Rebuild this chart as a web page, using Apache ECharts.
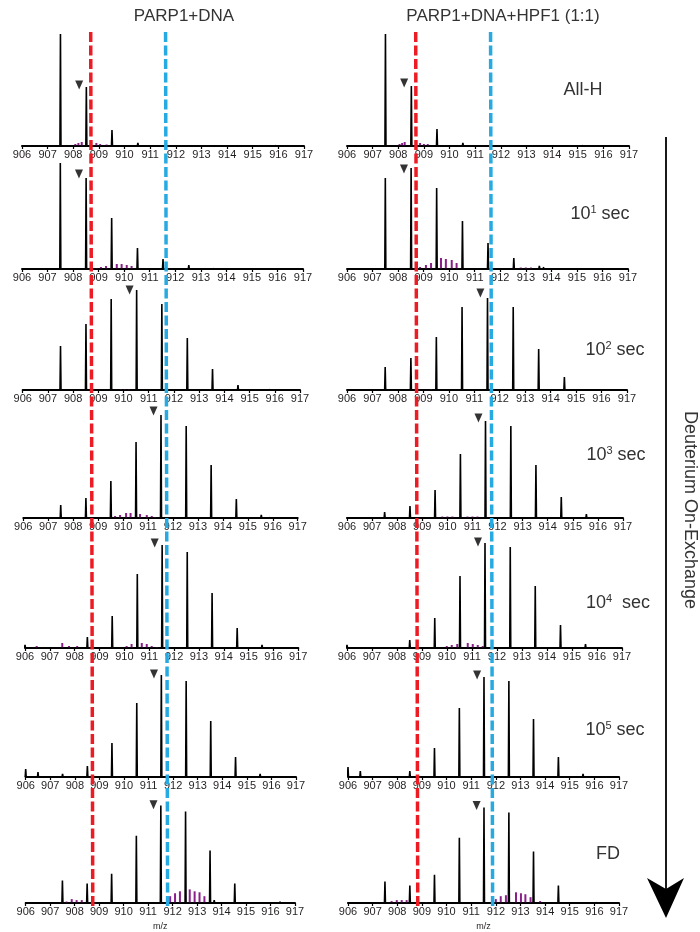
<!DOCTYPE html>
<html>
<head>
<meta charset="utf-8">
<script src="https://cdn.jsdelivr.net/npm/echarts@6/dist/echarts.min.js"></script>
<style>
  html, body { margin: 0; background: #fff; }
  #chart { width: 700px; height: 932px; }
</style>
</head>
<body>
<div id="chart"></div>
<script>
// isotope positions (m/z) and tick labels
const isotopes = [907.50, 908.51, 909.51, 910.52, 911.52, 912.53, 913.53, 914.54, 915.54];
const mzMin = 906;
const mzMax = 917;

const columnTitles = ['PARP1+DNA', 'PARP1+DNA+HPF1 (1:1)'];
const timeLabels = ['All-H', '10{s|1}{n| sec}', '10{s|2}{n| sec}', '10{s|3}{n| sec}', '10{s|4}{n|  sec}', '10{s|5}{n| sec}', 'FD'];

// intensity at each isotope, one row per time point
const dnaMain = [
  [112, 59, 16, 3, 0, 0, 0, 0, 0],
  [106, 91, 51, 21, 10, 4, 1, 0, 0],
  [44, 66, 91, 100, 86, 52, 21, 5, 1],
  [13, 20, 37, 76, 103, 92, 53, 19, 3],
  [0, 11, 32, 74, 103, 96, 55, 20, 3],
  [3, 11, 34, 74, 102, 96, 56, 20, 3],
  [23, 20, 30, 69, 100, 94, 54, 20, 2]
];
const hpfMain = [
  [112, 60, 17, 3, 0, 0, 0, 0, 0],
  [91, 101, 81, 48, 26, 11, 3, 0, 0],
  [23, 32, 53, 83, 92, 83, 41, 13, 2],
  [6, 12, 28, 64, 97, 92, 53, 21, 4],
  [2, 8, 30, 72, 105, 101, 62, 23, 4],
  [2, 6, 29, 69, 100, 96, 58, 20, 3],
  [22, 18, 29, 67, 98, 93, 53, 18, 1]
];

// small black noise peaks [m/z, intensity]
const dnaMinor = [
  [[911.9, 1.5], [915.1, 1.5], [915.25, 1.5], [915.4, 1.5], [915.9, 1]],
  [[906.5, 1], [912.8, 2], [913.1, 1.5], [913.4, 1]],
  [[906.3, 1], [915.8, 1]],
  [[906.2, 1], [906.6, 1], [915.9, 1]],
  [[906.0, 3], [906.3, 1]],
  [[906.0, 8], [906.5, 5], [907.0, 2], [910.0, 1]],
  [[906.0, 2], [906.5, 2], [907.2, 1], [909.1, 1], [911.3, 1], [913.7, 3], [915.2, 1.5], [915.5, 1.5], [915.8, 1.5], [916.1, 1.5], [916.4, 1.5]]
];
const hpfMinor = [
  [[910.9, 1], [915.2, 1]],
  [[906.4, 1], [910.65, 2], [910.9, 1], [913.7, 2]],
  [[915.5, 1]],
  [[906.0, 2], [906.5, 1]],
  [[906.0, 3], [906.5, 1]],
  [[906.0, 10], [906.5, 6], [907.0, 2]],
  [[906.0, 2], [906.5, 2], [907.1, 1], [909.0, 1], [913.8, 2], [915.2, 1], [915.5, 1], [915.8, 1], [916.1, 1]]
];

// purple peaks [m/z, intensity]
const dnaPurple = [
  [[908.08, 2], [908.2, 3], [908.33, 4], [908.9, 3], [909.05, 2], [909.3, 1.5]],
  [[908.92, 1], [909.09, 2], [909.29, 3], [909.71, 5], [909.9, 5], [910.1, 4], [910.29, 3]],
  [[909.9, 1], [910.05, 1], [910.2, 1]],
  [[909.68, 2], [909.88, 3], [910.12, 5], [910.3, 5], [910.68, 4], [910.95, 3], [911.15, 2], [911.28, 1]],
  [[906.47, 2], [907.5, 5], [907.77, 2], [908.1, 2], [910.09, 2], [910.29, 4], [910.7, 5], [910.9, 4], [911.1, 2], [911.3, 1]],
  [],
  [[907.67, 1.5], [907.88, 4], [908.08, 3], [908.29, 3], [911.9, 7], [912.1, 10], [912.3, 12], [912.7, 14], [912.9, 12], [913.1, 11], [913.3, 7]]
];
const hpfPurple = [
  [[908.05, 2], [908.15, 3], [908.25, 4], [908.85, 3], [909.0, 2], [909.15, 2]],
  [[908.86, 2], [909.09, 4], [909.29, 6], [909.68, 11], [909.87, 10], [910.1, 9], [910.29, 6], [912.8, 1.5], [913.0, 1.5], [913.2, 1.5]],
  [[909.3, 1], [909.5, 1]],
  [[909.8, 1.5], [910.0, 1.5], [910.2, 1.5], [910.8, 1.5], [911.0, 1.5], [911.2, 1.5]],
  [[909.99, 2], [910.19, 3], [910.41, 4], [910.83, 5], [911.03, 4], [911.23, 3], [911.43, 2]],
  [],
  [[907.77, 2], [907.98, 3], [908.18, 3], [908.38, 3], [909.17, 1], [912.0, 4], [912.2, 7], [912.41, 8], [912.82, 11], [913.02, 10], [913.2, 9], [913.41, 6], [913.8, 2]]
];

// ▼ marker [m/z, level]
const dnaMarker = [[908.23, 61], [908.23, 95], [910.24, 100], [911.22, 107], [911.22, 105], [911.22, 103], [911.22, 101]];
const hpfMarker = [[908.23, 63], [908.23, 100], [911.24, 97], [911.24, 100], [911.24, 106], [911.24, 102], [911.22, 100]];

// dashed guide lines, m/z at top and bottom of the figure
const redGuide = [908.68, 908.76];
const blueGuide = [911.60, 911.68];

// layout
const FONT = 'Liberation Sans, Arial, sans-serif';
const PANEL_H = 115;
const rowBase = [146, 269, 390, 518, 648, 777, 906];
const dnaAxisPx = [[22, 304], [22, 303], [22.7, 300], [23.3, 297.7], [25, 298.3], [25.7, 296], [25.7, 295]];
const hpfAxisPx = [[347, 629], [347, 628], [347, 627], [347, 623], [347, 622], [348, 619], [348, 619]];
const labelPos = [[583, 90], [600, 214], [615, 350], [616, 455], [618, 603], [615, 730], [608, 854]];

function stickLine(peaks, half) {
  const pts = [];
  peaks.slice().sort((a, b) => a[0] - b[0]).forEach(([mz, h]) => {
    pts.push([mz - half, 0], [mz, h], [mz + half, 0]);
  });
  return pts;
}

const grid = [], xAxis = [], yAxis = [], series = [];

function addPanel(axisPx, base, main, minor, purple, marker, last) {
  const g = grid.length;
  grid.push({ left: axisPx[0], width: axisPx[1] - axisPx[0], top: base - PANEL_H, height: PANEL_H });
  xAxis.push({
    gridIndex: g, type: 'value', min: mzMin, max: mzMax, interval: 1,
    axisLine: { lineStyle: { color: '#000', width: 2 } },
    axisTick: { length: 3, lineStyle: { color: '#000', width: 1.2 } },
    axisLabel: { fontSize: 11, color: '#231f20', margin: 3, fontFamily: FONT },
    splitLine: { show: false },
    name: last ? 'm/z' : '', nameLocation: 'middle', nameGap: 19,
    nameTextStyle: { fontSize: 9, color: '#231f20', fontFamily: FONT }
  });
  yAxis.push({ gridIndex: g, type: 'value', min: 0, max: PANEL_H, show: false });

  const peaks = isotopes.map((mz, i) => [mz, main[i]]).filter(p => p[1] > 0).concat(minor);
  series.push({
    type: 'line', xAxisIndex: g, yAxisIndex: g, data: stickLine(peaks, 0.02),
    symbol: 'none', lineStyle: { color: '#000', width: 1.6 }, z: 3, silent: true, animation: false
  });
  series.push({
    type: 'bar', xAxisIndex: g, yAxisIndex: g, data: purple, barWidth: 2,
    itemStyle: { color: '#8a1f8a' }, z: 2, silent: true, animation: false
  });
  series.push({
    type: 'scatter', xAxisIndex: g, yAxisIndex: g, data: [marker],
    symbol: 'triangle', symbolRotate: 180, symbolSize: [8, 9],
    itemStyle: { color: '#000' }, z: 4, silent: true, animation: false
  });
}

for (let r = 0; r < 7; r++) {
  addPanel(dnaAxisPx[r], rowBase[r], dnaMain[r], dnaMinor[r], dnaPurple[r], dnaMarker[r], r === 6);
  addPanel(hpfAxisPx[r], rowBase[r], hpfMain[r], hpfMinor[r], hpfPurple[r], hpfMarker[r], r === 6);
}

// dashed guides over each column
[dnaAxisPx[0], hpfAxisPx[0]].forEach(axisPx => {
  const g = grid.length;
  grid.push({ left: axisPx[0], width: axisPx[1] - axisPx[0], top: 32, height: 874 });
  xAxis.push({ gridIndex: g, type: 'value', min: mzMin, max: mzMax, show: false });
  yAxis.push({ gridIndex: g, type: 'value', min: 0, max: 1, show: false });
  [[redGuide, '#ed1c24'], [blueGuide, '#27aae1']].forEach(([line, color]) => {
    series.push({
      type: 'line', xAxisIndex: g, yAxisIndex: g, data: [[line[0], 1], [line[1], 0]],
      symbol: 'none', lineStyle: { color: color, width: 3.5, type: [10, 3.5], cap: 'butt' },
      z: 10, silent: true, animation: false
    });
  });
});

const graphic = [
  { type: 'text', x: 184, y: 16, style: { text: columnTitles[0], font: '17px ' + FONT, fill: '#333', align: 'center', verticalAlign: 'middle' } },
  { type: 'text', x: 503, y: 16, style: { text: columnTitles[1], font: '17px ' + FONT, fill: '#333', align: 'center', verticalAlign: 'middle' } },
  { type: 'line', shape: { x1: 666, y1: 137, x2: 666, y2: 890 }, style: { stroke: '#000', lineWidth: 1.8 } },
  { type: 'polygon', shape: { points: [[647, 878], [666, 918], [684, 878], [666, 889]] }, style: { fill: '#000' } },
  { type: 'text', x: 690, y: 510, rotation: -Math.PI / 2,
    style: { text: 'Deuterium On-Exchange', font: '18px ' + FONT, fill: '#333', align: 'center', verticalAlign: 'middle' } }
];
timeLabels.forEach((t, i) => {
  graphic.push({
    type: 'text', x: labelPos[i][0], y: labelPos[i][1],
    style: {
      text: t.indexOf('{') >= 0 ? '{n|' + t.replace('{s|', '}{s|') : t,
      font: '18px ' + FONT, fill: '#333', align: 'center', verticalAlign: 'middle',
      rich: {
        n: { fontSize: 18, fontFamily: FONT, fill: '#333', lineHeight: 20 },
        s: { fontSize: 11, fontFamily: FONT, fill: '#333', lineHeight: 20, verticalAlign: 'top' }
      }
    }
  });
});

const chart = echarts.init(document.getElementById('chart'));
chart.setOption({ animation: false, grid, xAxis, yAxis, series, graphic });
</script>
</body>
</html>
